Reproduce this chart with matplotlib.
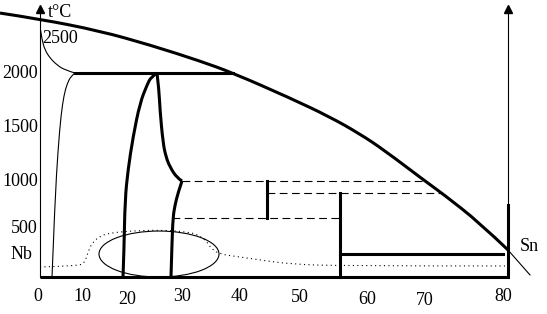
import numpy as np
import matplotlib
matplotlib.use("Agg")
import matplotlib.pyplot as plt
from matplotlib.patches import Ellipse, PathPatch
from matplotlib.path import Path

plt.rcParams['font.family'] = ['Liberation Serif', 'DejaVu Serif']

# composition scale (0..80) and temperature (deg C)
liq_x = [-6.84, 0, 10.26, 18.80, 27.35, 32.99, 42.74, 49.57, 54.70, 58.80, 65.81, 68.89, 75.21, 80.0]
liq_y = [2588, 2529, 2412, 2275, 2118, 2000, 1755, 1569, 1402, 1245, 941, 814, 529, 265]
liq_tail_x = [80.0, 83.76]
liq_tail_y = [265, 20]

nb_top_x = [0.09, 0.34, 0.85, 1.71, 2.91, 4.27, 5.98]
nb_top_y = [2422, 2324, 2225, 2147, 2078, 2029, 2000]
nb_low_x = [5.98, 5.30, 4.62, 4.10, 3.59, 3.08, 2.56, 2.05]
nb_low_y = [2000, 1971, 1892, 1784, 1588, 1245, 755, 0]

peri_y = 2000
peri_x = [5.98, 32.99]

a15_left_x = [20.0, 18.97, 18.29, 17.09, 15.90, 15.04, 14.53, 14.36, 14.19]
a15_left_y = [2000, 1961, 1882, 1706, 1373, 1049, 755, 265, 0]
a15_up_x = [20.0, 20.34, 20.51, 21.03, 21.54, 22.22, 23.42, 24.27]
a15_up_y = [2000, 1833, 1637, 1314, 1176, 1078, 971, 941]
a15_dn_x = [24.27, 23.59, 23.08, 22.74, 22.56, 22.39]
a15_dn_y = [941, 824, 706, 588, 333, 0]

dash_y = [941, 824, 578]
dash_x0 = [24.27, 38.80, 22.56]
dash_x1 = [65.81, 68.89, 51.28]

v1_x, v1_y = 38.80, [578, 941]
v2_x, v2_y = 51.28, [0, 824]
h_x, h_y = [51.28, 79.15], 225

dot_x = [0, 6.84, 7.69, 8.21, 8.89, 10.26, 11.97, 15.38, 20.51, 25.64, 27.35,
         28.55, 29.23, 30.60, 34.19, 37.61, 42.74, 51.28, 79.49]
dot_y = [98, 108, 147, 245, 333, 402, 431, 451, 461, 441, 402,
         343, 284, 225, 196, 167, 127, 108, 108]

ell_c = (20.34, 225)
ell_w, ell_h = 20.51, 451

y_labels = ['2500', '2000', '1500', '1000', '500', 'Nb']
y_label_pos = [2343, 2000, 1461, 941, 480, 216]
x_labels = ['0', '10', '20', '30', '40', '50', '60', '70', '80']
x_label_pos = [-0.34, 7.18, 14.87, 24.27, 34.19, 44.44, 55.90, 65.81, 79.15]
x_label_y = [-196, -196, -225, -196, -196, -206, -225, -235, -196]


def smooth(ax, xs, ys, **kw):
    # quadratic bezier through midpoints, read points act as control points
    pts = np.column_stack([xs, ys]).astype(float)
    verts = [pts[0]]
    codes = [Path.MOVETO]
    n = len(pts)
    for i in range(1, n - 1):
        end = pts[i + 1] if i == n - 2 else (pts[i] + pts[i + 1]) / 2
        verts += [pts[i], end]
        codes += [Path.CURVE3, Path.CURVE3]
    if n == 2:
        verts.append(pts[1])
        codes.append(Path.LINETO)
    ax.add_patch(PathPatch(Path(verts, codes), fill=False, **kw))


fig = plt.figure(figsize=(5.47, 3.14), dpi=100)
ax = fig.add_axes([0, 0, 1, 1])
ax.set_xlim(-6.84, 86.67)
ax.set_ylim(-363, 2716)
ax.axis('off')

thick = 2.2
thin = 0.8

# axes
ax.plot([0, 0], [0, 2640], color='k', lw=thin)
ax.plot([0], [2630], marker='^', ms=6, color='k')
ax.plot([80, 80], [0, 2640], color='k', lw=thin)
ax.plot([80], [2630], marker='^', ms=6, color='k')
ax.plot([80, 80], [0, 706], color='k', lw=thick)
ax.plot([0, 80], [0, 0], color='k', lw=thick, solid_capstyle='butt')

# liquidus
smooth(ax, liq_x, liq_y, color='k', lw=thick)
ax.plot(liq_tail_x, liq_tail_y, color='k', lw=thin)

smooth(ax, nb_top_x, nb_top_y, color='k', lw=thin)
smooth(ax, nb_low_x, nb_low_y, color='k', lw=thin)
ax.plot(peri_x, [peri_y, peri_y], color='k', lw=thick)

smooth(ax, a15_left_x, a15_left_y, color='k', lw=thick)
smooth(ax, a15_up_x, a15_up_y, color='k', lw=thick)
smooth(ax, a15_dn_x, a15_dn_y, color='k', lw=thick)

for y, x0, x1 in zip(dash_y, dash_x0, dash_x1):
    ax.plot([x0, x1], [y, y], color='k', lw=thin, dashes=(7, 4))

ax.plot([v1_x, v1_x], v1_y, color='k', lw=thick)
ax.plot([v2_x, v2_x], v2_y, color='k', lw=thick)
ax.plot(h_x, [h_y, h_y], color='k', lw=thick)

smooth(ax, dot_x, dot_y, color='k', lw=thin, linestyle=(0, (1, 3)))
ax.add_patch(Ellipse(ell_c, ell_w, ell_h, fill=False, color='k', lw=thin))

fs = 13
for lab, y in zip(y_labels, y_label_pos):
    if lab == '2500':
        ax.text(0.34, y, lab, ha='left', va='center', fontsize=fs)
    elif lab == 'Nb':
        ax.text(-1.37, y, lab, ha='right', va='center', fontsize=fs)
    else:
        ax.text(-0.34, y, lab, ha='right', va='center', fontsize=fs)
for lab, x, y in zip(x_labels, x_label_pos, x_label_y):
    ax.text(x, y, lab, ha='center', va='center', fontsize=fs)

ax.text(1.37, 2598, 't°C', ha='left', va='center', fontsize=fs)
ax.text(82.05, 294, 'Sn', ha='left', va='center', fontsize=fs)

fig.savefig('out.png', dpi=100)
